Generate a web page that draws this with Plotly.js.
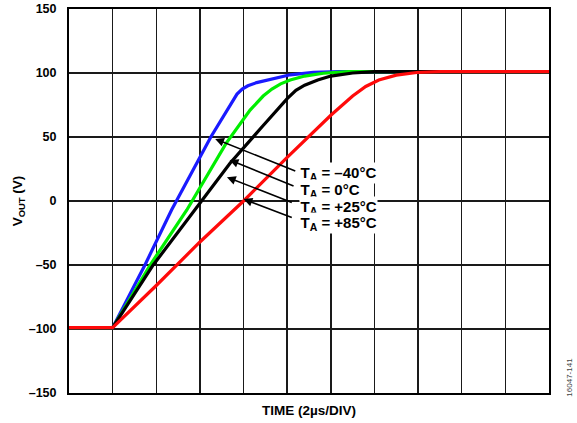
<!DOCTYPE html>
<html>
<head>
<meta charset="utf-8">
<script src="https://cdn.plot.ly/plotly-3.0.1.min.js"></script>
<style>html,body{margin:0;padding:0;background:#fff;}#chart{width:577px;height:423px;}</style>
</head>
<body>
<div id="chart"></div>
<script>
// time in divisions (2 µs/DIV), VOUT in volts
const tBlue  = [0, 1, 1.74, 2.35, 3.25, 3.7, 3.85, 3.97, 4.1, 4.3, 4.6, 5.07, 5.6, 6.2, 11];
const vBlue  = [-99, -99, -50, -7, 50, 76, 83.5, 87.5, 90, 92.5, 95, 98.6, 100.5, 101, 101];
const tGreen = [0, 1, 1.86, 2.7, 3.6, 4.15, 4.45, 4.65, 4.85, 5.07, 5.4, 5.83, 6.4, 11];
const vGreen = [-99, -99, -50, -7, 45, 71, 82, 87.5, 91.5, 94.5, 97.6, 99.8, 101, 101];
const tBlack = [0, 1, 1.93, 3.0, 3.69, 4.4, 5.0, 5.2, 5.4, 5.7, 6.0, 6.5, 7.0, 11];
const vBlack = [-99, -99, -50, -2, 29.5, 57, 80, 86.5, 90.5, 94.5, 97.6, 100, 101, 101];
const tRed   = [0, 1, 2, 3, 4, 5, 6, 6.5, 6.8, 7.1, 7.5, 7.97, 8.5, 11];
const vRed   = [-99, -99, -66, -32, 0, 34, 67, 82, 89.5, 94.5, 98.3, 100.4, 101, 101];
const labels = ['T<sub>A</sub> = –40°C', 'T<sub>A</sub> = 0°C', 'T<sub>A</sub> = +25°C', 'T<sub>A</sub> = +85°C'];
const yTickVals = [-150, -100, -50, 0, 50, 100, 150];
const yTickText = ['–150', '–100', '–50', '0', '50', '100', '150'];

const F = 'Liberation Sans, Arial, sans-serif';
const mk = (x, y, c) => ({x: x, y: y, type: 'scatter', mode: 'lines', line: {color: c, width: 3.2}, hoverinfo: 'skip'});
const data = [mk(tBlue, vBlue, '#1a1aff'), mk(tGreen, vGreen, '#00ee00'), mk(tBlack, vBlack, '#000000'), mk(tRed, vRed, '#ff0a0a')];

// arrow tips (on curves) and text
const tips = [[3.35, 48.5], [3.68, 32.1], [3.62, 18.6], [4.0, 1.5]];
const tails = [[5.22, 23], [5.18, 11.3], [5.14, -1.6], [5.14, -13.3]];
const textY = [21.5, 8.5, -4.5, -17];
const ann = [];
labels.forEach((s, i) => {
  ann.push({x: tips[i][0], y: tips[i][1], xref: 'x', yref: 'y', axref: 'x', ayref: 'y',
    ax: tails[i][0], ay: tails[i][1], showarrow: true, arrowhead: 2, arrowsize: 1.1, arrowwidth: 1.6,
    arrowcolor: '#000', text: ''});
});
labels.forEach((s, i) => {
  ann.push({x: 5.28, y: textY[i], xref: 'x', yref: 'y', xanchor: 'left', yanchor: 'middle', showarrow: false,
    text: s, bgcolor: '#fff', borderpad: 0.5, font: {family: F, size: 15, color: '#000', weight: 'bold'}});
});
ann.push({x: 1.0, y: 0.04, xref: 'paper', yref: 'paper', xanchor: 'center', yanchor: 'middle', xshift: 21, showarrow: false,
  text: '16047-141', textangle: -90, font: {family: F, size: 8, color: '#444'}});

const layout = {
  width: 577, height: 423,
  margin: {l: 69, r: 28, t: 9, b: 30},
  paper_bgcolor: '#fff', plot_bgcolor: '#fff',
  showlegend: false,
  font: {family: F, color: '#000'},
  xaxis: {range: [0, 11], dtick: 1, tick0: 0, showticklabels: false, ticks: '',
    showgrid: true, gridcolor: '#1a1a1a', gridwidth: 1.4, zeroline: false,
    showline: true, linecolor: '#000', linewidth: 2, mirror: true,
    title: {text: 'TIME (2µs/DIV)', font: {family: F, size: 13.5, weight: 'bold'}, standoff: 12}},
  yaxis: {range: [-150, 150], tickvals: yTickVals, ticktext: yTickText, ticks: '',
    ticklabelstandoff: 8,
    tickfont: {family: F, size: 12.5, weight: 'bold'},
    showgrid: true, gridcolor: '#1a1a1a', gridwidth: 1.4, zeroline: false,
    showline: true, linecolor: '#000', linewidth: 2, mirror: true,
    title: {text: 'V<sub>OUT</sub> (V)', font: {family: F, size: 13.5, weight: 'bold'}, standoff: 3}},
  annotations: ann
};
Plotly.newPlot('chart', data, layout, {staticPlot: true, displayModeBar: false});
</script>
</body>
</html>
